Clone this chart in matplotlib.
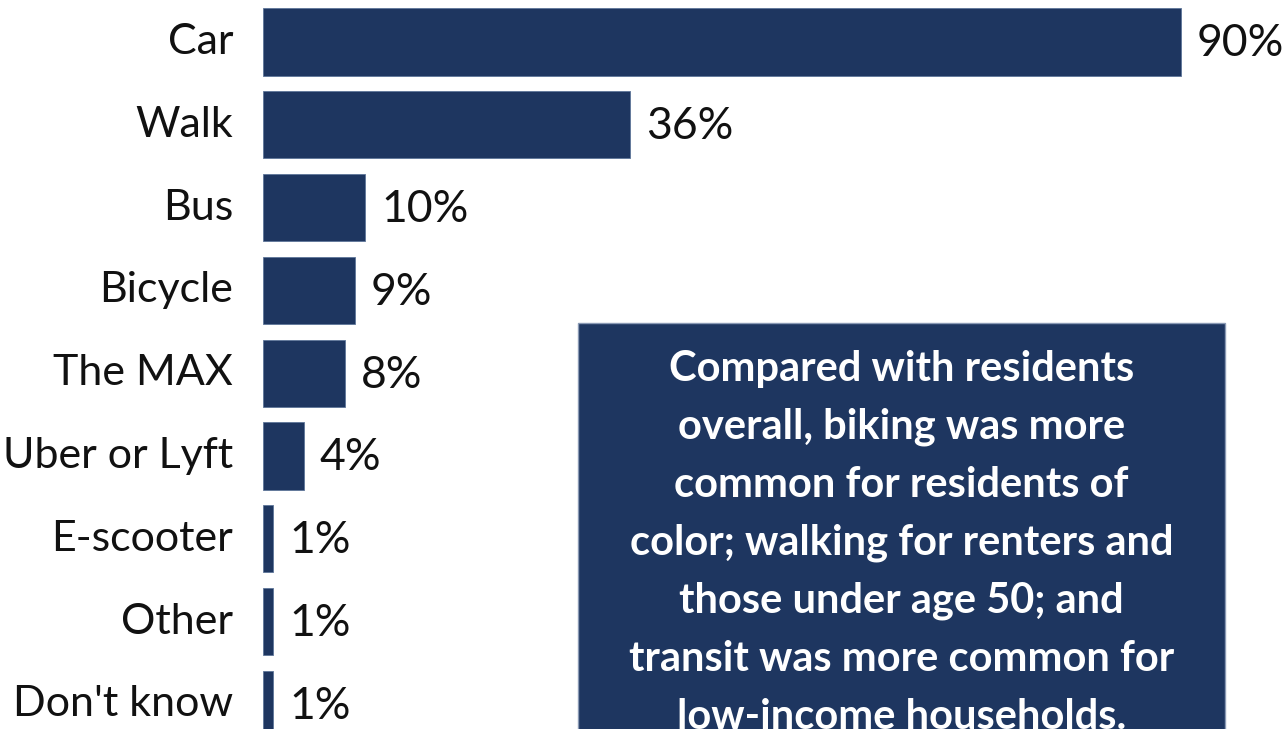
import matplotlib.pyplot as plt
from matplotlib.patches import Rectangle

plt.rcParams['font.family'] = ['Lato', 'DejaVu Sans']

modes = ['Car', 'Walk', 'Bus', 'Bicycle', 'The MAX', 'Uber or Lyft',
         'E-scooter', 'Other', "Don't know"]
shares = [90, 36, 10, 9, 8, 4, 1, 1, 1]

note_lines = [
    'Compared with residents',
    'overall, biking was more',
    'common for residents of',
    'color; walking for renters and',
    'those under age 50; and',
    'transit was more common for',
    'low-income households.',
]

navy = '#1E3660'
W, H = 1287, 729

fig = plt.figure(figsize=(W / 100, H / 100), dpi=100)
ax = fig.add_axes([263 / W, 0, 1 - 263 / W, 1])

ypos = range(len(modes))
ax.barh(ypos, shares, height=0.81, color=navy, edgecolor='#5d7599', linewidth=0.6)
ax.set_xlim(0, 1024 / 10.2)
ax.set_ylim((H - 42) / 82.8, -42 / 82.8)

for y, name, v in zip(ypos, modes, shares):
    ax.annotate(name, (0, y), xytext=(-30, 0), textcoords='offset pixels',
                ha='right', va='center', fontsize=31, color='#111111')
    ax.annotate(f'{v}%', (v, y), xytext=(16, -2), textcoords='offset pixels',
                ha='left', va='center', fontsize=32, color='#111111')

for s in ax.spines.values():
    s.set_visible(False)
ax.set_xticks([])
ax.set_yticks([])

# callout box, runs off the bottom edge
bx0, bx1, btop = 578, 1225, 323
fig.patches.append(Rectangle((bx0 / W, -0.1), (bx1 - bx0) / W, (H - btop) / H + 0.1,
                             transform=fig.transFigure, facecolor=navy,
                             edgecolor='#8a9ab5', linewidth=1.0, zorder=0))
for i, line in enumerate(note_lines):
    yc = 369 + i * 58
    fig.text((bx0 + bx1) / 2 / W, 1 - yc / H, line, ha='center', va='center',
             fontsize=30, fontweight='bold', color='white')

fig.savefig('out.png', dpi=100)
